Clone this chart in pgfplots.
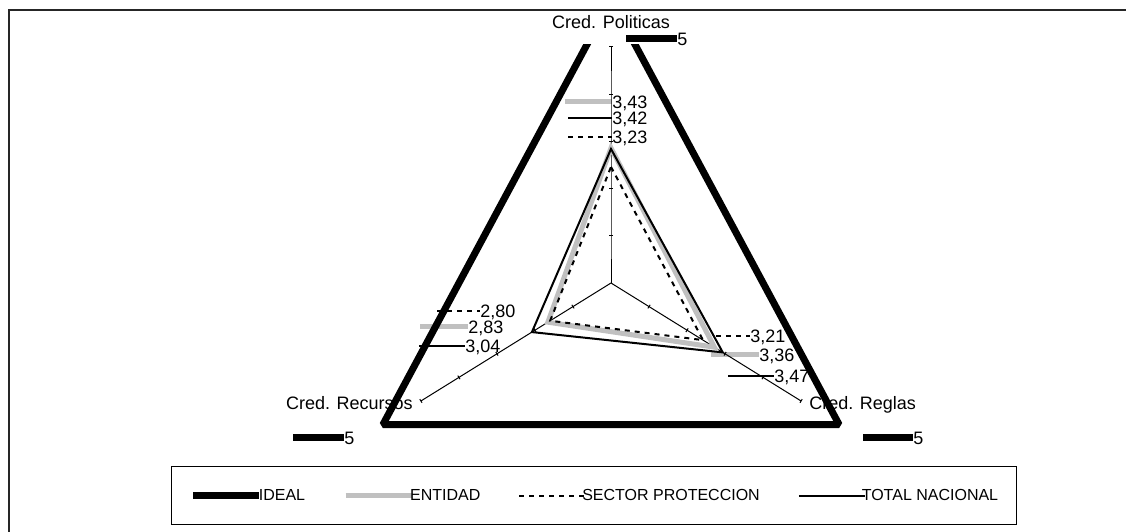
\documentclass[border=0pt]{standalone}
\usepackage{pgfplots}
\pgfplotsset{compat=1.18}
\usepackage{pgfplotstable}
\usepackage{fontspec}
\setmainfont{Liberation Sans}
\definecolor{entgray}{RGB}{192,192,192}
\newcommand\lbl{\fontsize{13.5pt}{16pt}\selectfont}
\pgfplotsset{table/rx/.style={x expr={(\thisrow{v}-2)*cos(\thisrow{a})}, y expr={(\thisrow{v}-2)*sin(\thisrow{a})}}}
\pgfdeclarelayer{bg}
\pgfsetlayers{bg,main}

% angle (deg) and value: Cred. Politicas = 90, Cred. Reglas = -30, Cred. Recursos = 210
\pgfplotstableread{
a v
90 5
-30 5
210 5
}\tabIdeal
\pgfplotstableread{
a v
90 3.43
-30 3.36
210 2.83
}\tabEnt
\pgfplotstableread{
a v
90 3.23
-30 3.21
210 2.80
}\tabSec
\pgfplotstableread{
a v
90 3.42
-30 3.47
210 3.04
}\tabTot
\pgfplotstableread{
a v
90 2
90 2.5
90 3
90 3.5
90 4
90 4.5
}\axP
\pgfplotstableread{
a v
-30 2
-30 2.5
-30 3
-30 3.5
-30 4
-30 4.5
}\axR
\pgfplotstableread{
a v
210 2
210 2.5
210 3
210 3.5
210 4
210 4.5
}\axC

\newcommand\lab[5]{\draw[#4] (#1,#3) -- (#2,#3); \node[anchor=base west, inner sep=0pt, font=\lbl] at (#2,#3+6.5) {#5};}

\begin{document}
\begin{tikzpicture}
\begin{axis}[x=65.85pt, y=70.8pt, xmin=-2.9, xmax=2.9, ymin=-1.7, ymax=2.53,
  hide axis, clip=true,
  legend columns=4,
  legend image code/.code={\draw[#1] (0pt,0pt) -- (49.5pt,0pt);},
  legend style={at={(0.4666,-0.1303)}, anchor=center, draw=black, line width=0.75pt,
    inner xsep=13.5pt, inner ysep=17pt, font=\fontsize{12pt}{14pt}\selectfont,
    nodes={inner sep=0pt},
    /tikz/every even column/.append style={column sep=28.5pt}}]
\addplot[black, line width=0.75pt, mark=-, mark size=1.6pt, mark indices={2,3,4,5,6}, forget plot] table[rx]{\axP};
\addplot[black, line width=0.75pt, mark=-, mark size=1.6pt, mark indices={2,3,4,5,6}, mark options={rotate=58.2}, forget plot] table[rx]{\axR};
\addplot[black, line width=0.75pt, mark=-, mark size=1.6pt, mark indices={2,3,4,5,6}, mark options={rotate=-58.2}, forget plot] table[rx]{\axC};
\addplot[black, line width=5.25pt, line join=bevel] table[rx]{\tabIdeal} -- cycle;
\addlegendentry{\hspace*{-3pt}IDEAL}
\addplot[entgray, line width=3.75pt] table[rx]{\tabEnt} -- cycle;
\addlegendentry{\hspace*{-3pt}ENTIDAD}
\addplot[black, line width=1.5pt, dash pattern=on 3.75pt off 3.75pt] table[rx]{\tabSec} -- cycle;
\addlegendentry{\hspace*{-3pt}SECTOR PROTECCION}
\addplot[black, line width=1.5pt] table[rx]{\tabTot} -- cycle;
\addlegendentry{\hspace*{-3pt}TOTAL NACIONAL}
\coordinate (O) at (axis cs:0,0);
\end{axis}
\begin{scope}[shift={(O)}, x=0.75pt, y=-0.75pt, shift={(-611,-283)}]
\path[use as bounding box] (0,0) rectangle (1126,531);
\begin{pgfonlayer}{bg}
\draw[line width=1.5pt, black!85] (9,10) rectangle (1140,545);
% category labels
\node[anchor=base, inner sep=0pt, font=\lbl] at (611,29) {Cred. Politicas};
\node[anchor=base east, inner sep=0pt, font=\lbl] at (413,409.5) {Cred. Recursos};
\node[anchor=base west, inner sep=0pt, font=\lbl] at (809,409.5) {Cred. Reglas};
% data labels with legend keys
\lab{626}{677}{39}{black, line width=5.25pt}{5}
\lab{565}{612}{102}{entgray, line width=3.75pt}{3,43}
\lab{568}{612}{118}{black, line width=1.5pt}{3,42}
\lab{568}{612}{137}{black, line width=1.5pt, dash pattern=on 3.75pt off 3.75pt}{3,23}
\lab{437}{480}{311}{black, line width=1.5pt, dash pattern=on 3.75pt off 3.75pt}{2,80}
\lab{420}{468}{327}{entgray, line width=3.75pt}{2,83}
\lab{419}{465}{346}{black, line width=1.5pt}{3,04}
\lab{706}{750}{336}{black, line width=1.5pt, dash pattern=on 3.75pt off 3.75pt}{3,21}
\lab{711}{759}{355}{entgray, line width=3.75pt}{3,36}
\lab{728}{774}{376}{black, line width=1.5pt}{3,47}
\lab{863}{913}{438}{black, line width=5.25pt}{5}
\lab{293}{344}{438}{black, line width=5.25pt}{5}
\end{pgfonlayer}
\end{scope}
\end{tikzpicture}
\end{document}
